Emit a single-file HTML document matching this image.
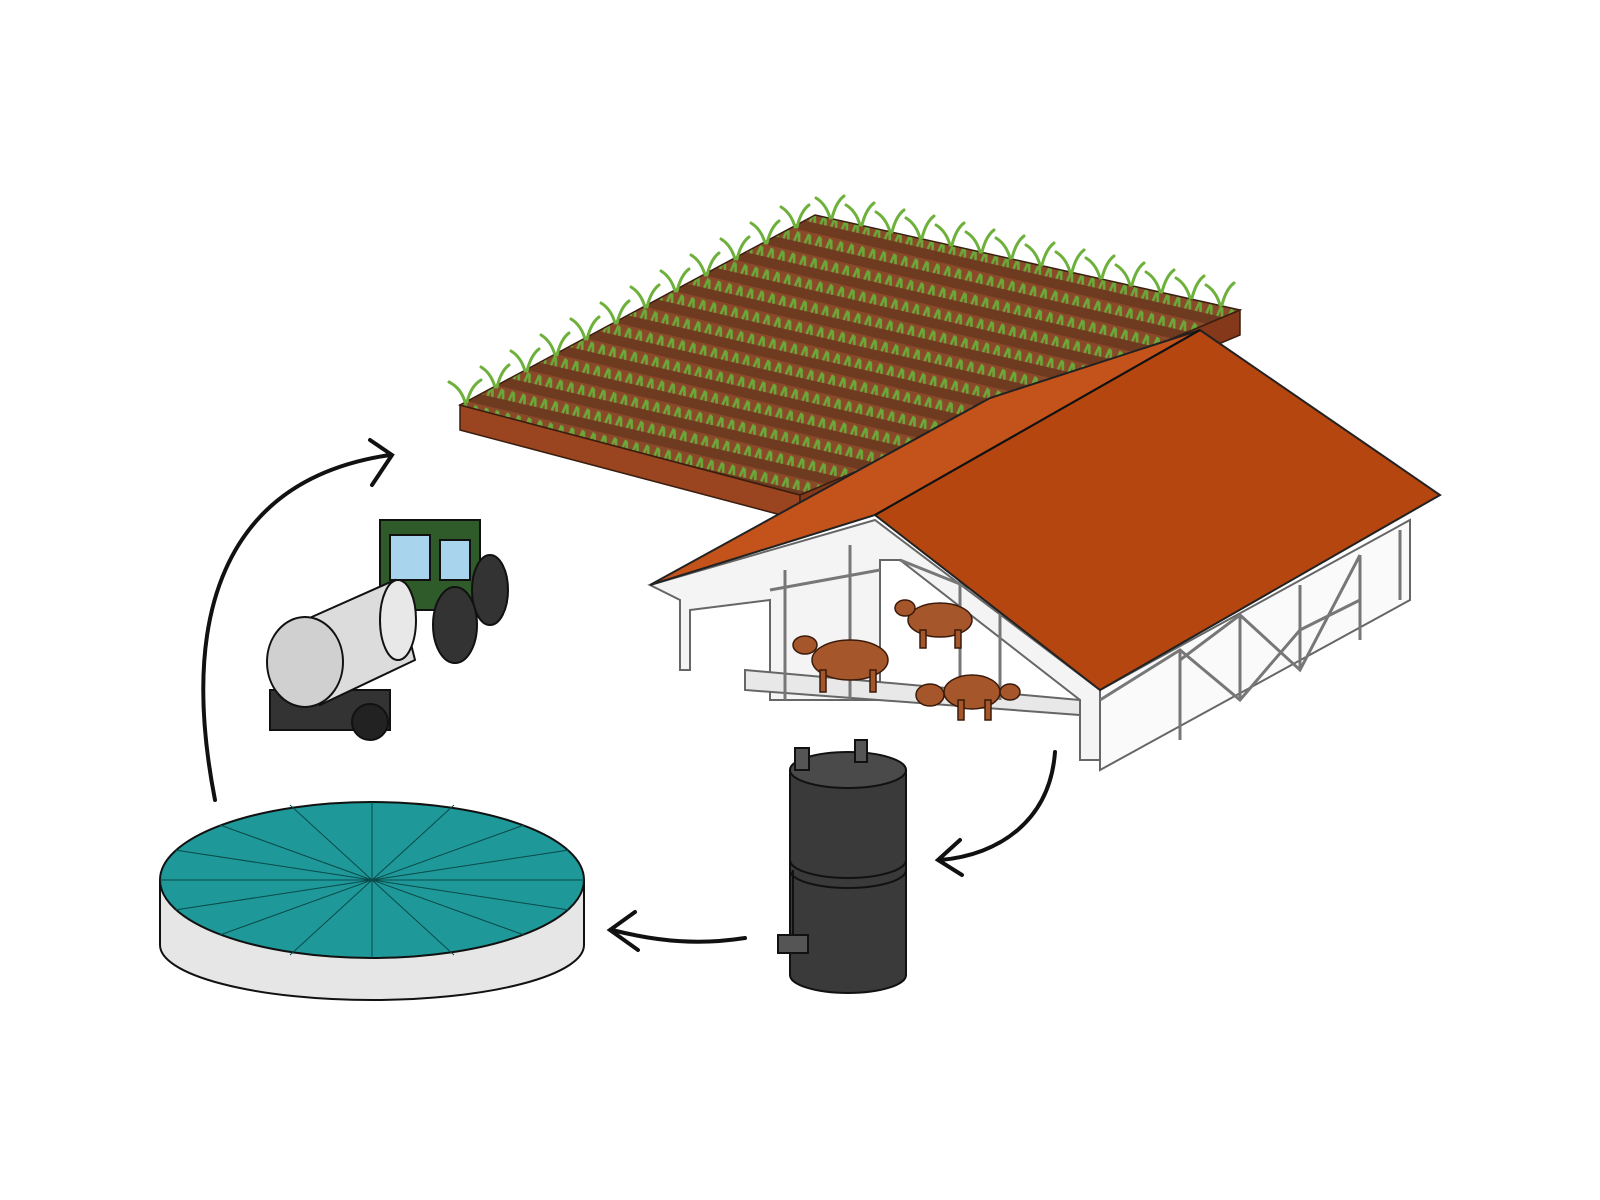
<!DOCTYPE html>
<html><head><meta charset="utf-8"><style>html,body{margin:0;padding:0;background:#fff}svg{display:block}</style></head>
<body>
<svg width="1600" height="1200" viewBox="0 0 1600 1200" xmlns="http://www.w3.org/2000/svg">
<defs>
<pattern id="rows" width="22" height="22" patternUnits="userSpaceOnUse" patternTransform="rotate(13)">
<rect width="22" height="22" fill="#8a4a2a"/>
<rect y="12" width="22" height="10" fill="#6e3a20"/>
<path d="M3 12 l2 -10 M8 12 l-2 -9 M14 12 l2 -10 M19 12 l-2 -9" stroke="#6aa83a" stroke-width="2.6"/>
</pattern>
</defs>

<!-- field -->
<polygon points="460,405 800,495 800,520 460,430" fill="#9a4420" stroke="#3a1e10" stroke-width="1.5"/>
<polygon points="800,495 1240,310 1240,335 800,520" fill="#85391a" stroke="#3a1e10" stroke-width="1.5"/>
<polygon points="815,215 1240,310 800,495 460,405" fill="url(#rows)" stroke="#3a1e10" stroke-width="1.5"/>
<g stroke="#6db03a" stroke-width="3" fill="none" stroke-linecap="round">
<path d="M465 402 q-4 -14 -16 -20 M467 402 q4 -16 14 -22
M495 387 q-4 -14 -14 -20 M497 387 q4 -16 12 -22
M525 371 q-4 -14 -14 -20 M527 371 q4 -16 12 -22
M555 355 q-4 -14 -14 -20 M557 355 q4 -16 12 -22
M585 339 q-4 -14 -14 -20 M587 339 q4 -16 12 -22
M615 323 q-4 -14 -14 -20 M617 323 q4 -16 12 -22
M645 307 q-4 -14 -14 -20 M647 307 q4 -16 12 -22
M675 291 q-4 -14 -14 -20 M677 291 q4 -16 12 -22
M705 275 q-4 -14 -14 -20 M707 275 q4 -16 12 -22
M735 259 q-4 -14 -14 -20 M737 259 q4 -16 12 -22
M765 243 q-4 -14 -14 -20 M767 243 q4 -16 12 -22
M795 227 q-4 -14 -14 -20 M797 227 q4 -16 12 -22
M830 218 q-4 -14 -14 -20 M832 218 q4 -16 12 -22
M860 225 q-4 -14 -14 -20 M862 225 q4 -16 12 -22
M890 232 q-4 -14 -14 -20 M892 232 q4 -16 12 -22
M920 238 q-4 -14 -14 -20 M922 238 q4 -16 12 -22
M950 245 q-4 -14 -14 -20 M952 245 q4 -16 12 -22
M980 252 q-4 -14 -14 -20 M982 252 q4 -16 12 -22
M1010 258 q-4 -14 -14 -20 M1012 258 q4 -16 12 -22
M1040 265 q-4 -14 -14 -20 M1042 265 q4 -16 12 -22
M1070 272 q-4 -14 -14 -20 M1072 272 q4 -16 12 -22
M1100 278 q-4 -14 -14 -20 M1102 278 q4 -16 12 -22
M1130 285 q-4 -14 -14 -20 M1132 285 q4 -16 12 -22
M1160 292 q-4 -14 -14 -20 M1162 292 q4 -16 12 -22
M1190 298 q-4 -14 -14 -20 M1192 298 q4 -16 12 -22
M1220 305 q-4 -14 -14 -20 M1222 305 q4 -16 12 -22"/>
</g>

<!-- barn frame -->
<g stroke="#666" stroke-width="2" fill="#f4f4f4">
<polygon points="650,585 875,520 1100,690 1100,760 1080,760 1080,700 900,560 880,560 880,700 770,700 770,600 690,610 690,670 680,670 680,600"/>
<polygon points="1100,690 1410,520 1410,600 1100,770" fill="#fafafa"/>
<polygon points="745,670 1080,700 1080,715 745,690" fill="#e8e8e8"/>
</g>
<g stroke="#777" stroke-width="3" fill="none">
<path d="M785 570 V700 M850 545 V700 M960 560 V690 M1000 590 V700 M1180 650 V740 M1240 615 V700 M1300 585 V670 M1360 555 V640 M1400 530 V600"/>
<path d="M1100 700 L1180 650 L1240 700 L1300 630 L1360 600 M1180 660 L1240 615 L1300 670 L1360 555"/>
<path d="M770 590 L880 570 M900 560 L1000 600"/>
</g>

<!-- cows -->
<g fill="#a5562a" stroke="#3a1a0a" stroke-width="1.5">
<ellipse cx="850" cy="660" rx="38" ry="20"/><ellipse cx="805" cy="645" rx="12" ry="9"/>
<rect x="820" y="670" width="6" height="22"/><rect x="870" y="670" width="6" height="22"/>
<ellipse cx="940" cy="620" rx="32" ry="17"/><ellipse cx="905" cy="608" rx="10" ry="8"/>
<rect x="920" y="630" width="6" height="18"/><rect x="955" y="630" width="6" height="18"/>
<ellipse cx="972" cy="692" rx="28" ry="17"/><rect x="958" y="700" width="6" height="20"/><rect x="985" y="700" width="6" height="20"/>
<ellipse cx="930" cy="695" rx="14" ry="11"/><ellipse cx="1010" cy="692" rx="10" ry="8"/>
</g>

<!-- roof -->
<polygon points="1200,330 875,515 650,585 990,398" fill="#c4531b" stroke="#222" stroke-width="2"/>
<polygon points="1200,330 1440,495 1100,690 875,515" fill="#b5460f" stroke="#222" stroke-width="2"/>
<line x1="1200" y1="330" x2="875" y2="515" stroke="#111" stroke-width="2"/>

<!-- digester tank -->
<g stroke="#111" stroke-width="2">
<path d="M790 770 V975 A58 18 0 0 0 906 975 V770 Z" fill="#3a3a3a"/>
<ellipse cx="848" cy="770" rx="58" ry="18" fill="#4a4a4a"/>
<path d="M790 860 A58 18 0 0 0 906 860" fill="none"/>
<path d="M790 870 A58 18 0 0 0 906 870" fill="none"/>
<rect x="795" y="748" width="14" height="22" fill="#555"/>
<rect x="855" y="740" width="12" height="22" fill="#555"/>
<rect x="778" y="935" width="30" height="18" fill="#555"/>
<line x1="793" y1="870" x2="793" y2="935"/>
</g>

<!-- storage disc -->
<path d="M160 880 V945 A212 55 0 0 0 584 945 V880 Z" fill="#e6e6e6" stroke="#111" stroke-width="2"/>
<ellipse cx="372" cy="880" rx="212" ry="78" fill="#1e9898" stroke="#111" stroke-width="2"/>
<g stroke="#0a4a4a" stroke-width="1">
<path d="M372 880 L160 880 M372 880 L584 880 M372 880 L372 802 M372 880 L372 958 M372 880 L220 825 M372 880 L524 825 M372 880 L220 935 M372 880 L524 935 M372 880 L290 805 M372 880 L454 805 M372 880 L290 955 M372 880 L454 955 M372 880 L175 850 M372 880 L569 850 M372 880 L175 910 M372 880 L569 910"/>
</g>

<!-- tractor -->
<g stroke="#111" stroke-width="2">
<rect x="270" y="690" width="120" height="40" fill="#333"/>
<circle cx="370" cy="722" r="18" fill="#222"/>
<rect x="380" y="520" width="100" height="90" fill="#2f5a2a"/>
<rect x="390" y="535" width="40" height="45" fill="#a8d4ee"/>
<rect x="440" y="540" width="30" height="40" fill="#a8d4ee"/>
<ellipse cx="490" cy="590" rx="18" ry="35" fill="#333"/>
<ellipse cx="455" cy="625" rx="22" ry="38" fill="#333"/>
<path d="M305 620 L395 580 L415 660 L320 705 Z" fill="#dcdcdc"/>
<ellipse cx="305" cy="662" rx="38" ry="45" fill="#d0d0d0"/>
<ellipse cx="398" cy="620" rx="18" ry="40" fill="#e8e8e8"/>
</g>

<!-- arrows -->
<g stroke="#111" stroke-width="4" fill="none" stroke-linecap="round">
<path d="M215 800 C180 620 220 480 390 455"/>
<path d="M370 440 L392 455 L372 485"/>
<path d="M1055 752 C1050 820 1000 855 940 860"/>
<path d="M960 840 L938 860 L962 875"/>
<path d="M745 938 C700 945 660 942 612 930"/>
<path d="M635 912 L610 930 L638 950"/>
</g>
</svg>
</body></html>
